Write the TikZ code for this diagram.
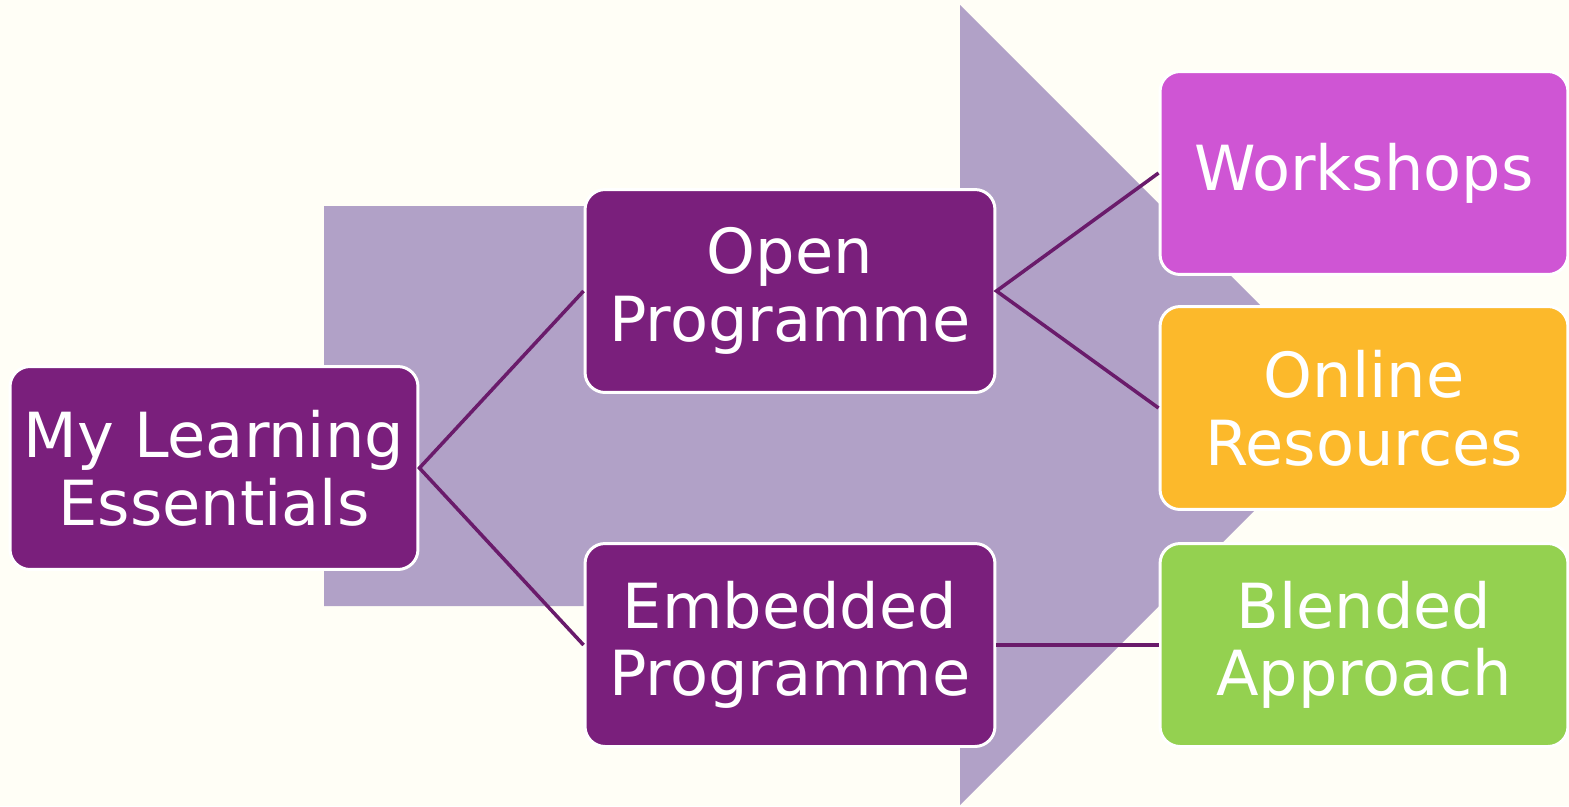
\documentclass[tikz,border=0pt]{standalone}
\usepackage{fontspec}
\setmainfont{DejaVu Sans}
\definecolor{bgc}{HTML}{FFFEF6}
\definecolor{arrowc}{HTML}{B1A1C7}
\definecolor{mainp}{HTML}{7A1F7C}
\definecolor{linec}{HTML}{6A1B6B}
\definecolor{workc}{HTML}{CF55D4}
\definecolor{onlinec}{HTML}{FCB92B}
\definecolor{blendc}{HTML}{94D150}
\begin{document}
\begin{tikzpicture}[x=0.02cm,y=-0.02cm,
  box/.style={draw=white,line width=1.7pt,rounded corners=0.4cm,inner sep=0pt,
    minimum width=8.16cm,minimum height=4.06cm,align=center,text=white,
    font=\fontsize{35.4}{38.5}\selectfont},
  conn/.style={draw=linec,line width=2pt}]
\fill[bgc] (0,0) rectangle (1569,806);
\useasboundingbox (0,0) rectangle (1569,806);
\fill[arrowc] (324,206) -- (960,206) -- (960,5) -- (1360,405) -- (960,805) -- (960,606) -- (324,606) -- cycle;
\node[box,fill=mainp] (mle) at (214,468) {My Learning\\Essentials};
\node[box,fill=mainp,minimum width=8.2cm] (op) at (790,291) {Open\\Programme};
\node[box,fill=mainp,minimum width=8.2cm] (ep) at (790,645) {Embedded\\Programme};
\node[box,fill=workc] (ws) at (1364,173) {Workshops};
\node[box,fill=onlinec] (or) at (1364,408) {Online\\Resources};
\node[box,fill=blendc] (ba) at (1364,645) {Blended\\Approach};
\draw[conn] (op.west) -- (mle.east) -- (ep.west);
\draw[conn] (ws.west) -- (op.east) -- (or.west);
\draw[conn] (ep.east) -- (ba.west);
\end{tikzpicture}
\end{document}
